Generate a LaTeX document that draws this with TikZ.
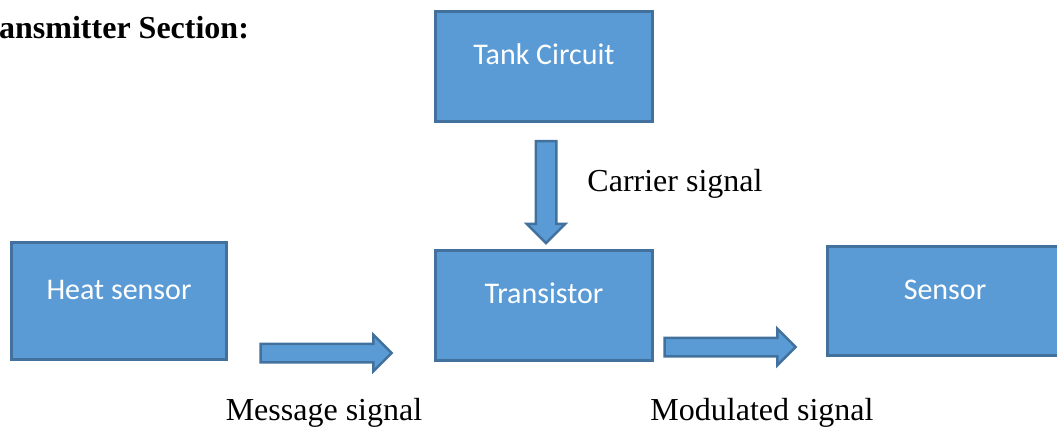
\documentclass[tikz,border=0pt]{standalone}
\usepackage{fontspec}
\setmainfont{Liberation Serif}
\newfontfamily\boxfont{Carlito}
\usepackage{xcolor}
\definecolor{boxfill}{HTML}{5B9BD5}
\definecolor{boxline}{HTML}{41719C}
\usetikzlibrary{shapes.arrows,positioning}

\begin{document}
\begin{tikzpicture}[
  x=1pt, y=-1pt,
  block/.style={draw=boxline, line width=2.5pt, fill=boxfill, text=white,
    font=\boxfont\fontsize{30}{34}\selectfont, text height=20pt, text depth=24pt,
    inner sep=0pt},
  fatarrow/.style={single arrow, draw=boxline, line width=2.5pt, fill=boxfill,
    inner xsep=0pt, single arrow head extend=9pt, single arrow head indent=0pt},
  lbl/.style={font=\fontsize{32}{38}\selectfont, inner sep=0pt, anchor=base}
]
\useasboundingbox (0,0) rectangle (1057,430);

% blocks
\node[block, minimum width=217pt, minimum height=110pt] (tank) at (544,66.5) {Tank Circuit};
\node[block, minimum width=215pt, minimum height=117pt] (heat) at (119,301) {Heat sensor};
\node[block, minimum width=217pt, minimum height=110pt] (trans) at (544,305.5) {Transistor};
\node[block, minimum width=235pt, minimum height=109pt] (sens) at (945,301) {Sensor};

% block arrows
\node[fatarrow, rotate=-90, inner ysep=9pt, minimum height=102pt, minimum width=38pt]
  (carrier) at (546,187) {};
\node[fatarrow, inner ysep=8pt, minimum height=131pt, minimum width=35pt]
  (message) at (321.5,353) {};
\node[fatarrow, inner ysep=8pt, minimum height=131pt, minimum width=34pt]
  (modulated) at (725.5,347) {};

% labels
\node[lbl, font=\bfseries\fontsize{32}{38}\selectfont, anchor=base west] (title) at (-1,39) {ansmitter Section:};
\node[lbl] (carrierlbl) at (675,192) {Carrier signal};
\node[lbl] (messagelbl) at (324,420) {Message signal};
\node[lbl] (modlbl) at (762,420) {Modulated signal};
\end{tikzpicture}
\end{document}
